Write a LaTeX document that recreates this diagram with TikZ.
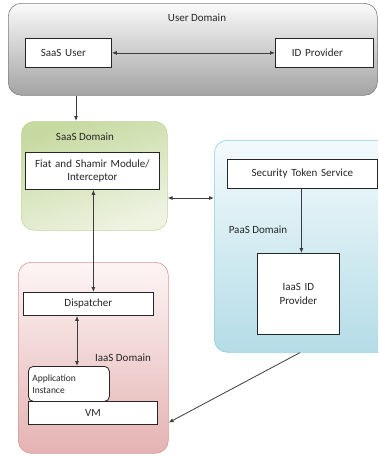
\documentclass[tikz,border=0pt]{standalone}
\usepackage{fontspec}
\setmainfont{Carlito}
\usetikzlibrary{arrows.meta,calc}

\definecolor{userTop}{HTML}{FAFAFA}
\definecolor{userBot}{HTML}{A3A3A3}
\definecolor{userLine}{HTML}{7F7F7F}
\definecolor{saasTop}{HTML}{C6D9A0}
\definecolor{saasBot}{HTML}{EEF3E2}
\definecolor{saasLine}{HTML}{C3D69B}
\definecolor{paasTop}{HTML}{F3FAFC}
\definecolor{paasBot}{HTML}{B4DCE7}
\definecolor{paasLine}{HTML}{93CDDD}
\definecolor{iaasTop}{HTML}{FDF5F5}
\definecolor{iaasBot}{HTML}{E4B3B2}
\definecolor{iaasLine}{HTML}{D99694}
\definecolor{ink}{HTML}{262626}

\tikzset{
  domainbox/.style={anchor=north west, inner sep=0pt, rounded corners=13pt, line width=0.6pt},
  compbox/.style={anchor=north west, draw=ink, fill=white, line width=0.8pt, inner sep=0pt,
    align=center, font=\fontsize{11}{13.5}\selectfont, text=ink},
  lbl/.style={inner sep=0pt, font=\fontsize{11}{13.5}\selectfont, text=ink},
  link/.style={draw=ink!90, line width=0.8pt},
  tip/.style={-{Latex[length=5pt,width=4pt]}},
  bitip/.style={{Latex[length=5pt,width=4pt]}-{Latex[length=5pt,width=4pt]}}
}

\begin{document}
\begin{tikzpicture}[x=1pt,y=-1pt]
\useasboundingbox (0,0) rectangle (378,458);
\clip (0,0) rectangle (378,458);

% ---- domains ----
\node[domainbox, draw=userLine, top color=userTop, bottom color=userBot,
      minimum width=369pt, minimum height=92pt] (userdom) at (8,3) {};
\node[domainbox, draw=saasLine, top color=saasTop, bottom color=saasBot, shading angle=20,
      minimum width=146pt, minimum height=109pt] (saasdom) at (21,121) {};
\node[domainbox, draw=paasLine, top color=paasTop, bottom color=paasBot,
      minimum width=185pt, minimum height=212pt] (paasdom) at (214,140) {};
\node[domainbox, draw=iaasLine, top color=iaasTop, bottom color=iaasBot,
      minimum width=150pt, minimum height=191pt] (iaasdom) at (18,262) {};

% ---- domain labels ----
\node[lbl] (userlbl) at (197,18) {User Domain};
\node[lbl] (saaslbl) at (85,137) {SaaS Domain};
\node[lbl] (paaslbl) at (258,230) {PaaS Domain};
\node[lbl] (iaaslbl) at (123,358) {IaaS Domain};

% ---- components ----
\node[compbox, minimum width=86pt, minimum height=29pt, text width=86pt] (saasuser) at (25,38)
  {\hspace*{-10pt}SaaS User};
\node[compbox, minimum width=98pt, minimum height=29pt, text width=98pt] (idprov) at (275,38)
  {\hspace*{-14pt}ID Provider};
\node[compbox, minimum width=134pt, minimum height=37pt, text width=134pt] (fiat) at (25,152)
  {Fiat and Shamir Module/\\Interceptor};
\node[compbox, minimum width=150pt, minimum height=29pt, text width=150pt] (sts) at (227,159)
  {Security Token Service};
\node[compbox, minimum width=82pt, minimum height=81pt, text width=82pt] (iaasid) at (257,253)
  {IaaS ID\\Provider};
\node[compbox, minimum width=130pt, minimum height=23pt, text width=130pt] (disp) at (23,292)
  {Dispatcher};
\node[compbox, rounded corners=5pt, minimum width=81pt, minimum height=35pt, text width=73pt,
      align=left, font=\fontsize{9.5}{12}\selectfont] (appinst) at (28,366)
  {Application\\Instance};
\node[compbox, minimum width=129pt, minimum height=23pt, text width=129pt] (vm) at (28,401)
  {VM};

% ---- connectors ----
\draw[link, bitip] (saasuser.east) -- (idprov.west);
\draw[link, tip] ([xshift=68pt]userdom.south west) -- ([xshift=55pt]saasdom.north west);
\draw[link, bitip] ([xshift=1pt]fiat.south) -- ([xshift=1pt]fiat.south |- disp.north);
\draw[link, bitip] ([yshift=-77pt]saasdom.north east) -- ([yshift=-77pt]saasdom.north east -| paasdom.west);
\draw[link, tip] ([xshift=-1pt]sts.south) -- ([xshift=-1pt]sts.south |- iaasid.north);
\draw[link, bitip] ([xshift=54pt]disp.south west) -- ([xshift=54pt]disp.south west |- appinst.north);
\draw[link, tip] ([xshift=86pt]paasdom.south west) -- ([yshift=31pt]iaasdom.south east);
\end{tikzpicture}
\end{document}
